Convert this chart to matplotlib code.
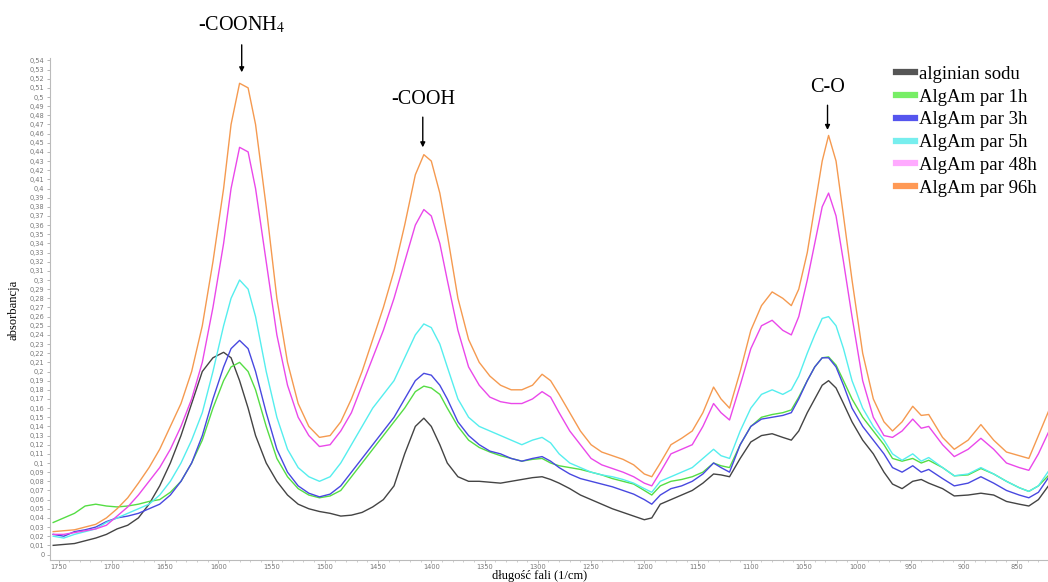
import matplotlib.pyplot as plt
from matplotlib.ticker import MultipleLocator, FuncFormatter

# wavenumber grid (1/cm)
wn = [1755, 1745, 1735, 1725, 1715, 1705, 1695, 1685, 1675, 1665, 1655, 1645,
      1635, 1625, 1615, 1605, 1595, 1588, 1580, 1572, 1565, 1555, 1545, 1535,
      1525, 1515, 1505, 1495, 1485, 1475, 1465, 1455, 1445, 1435, 1425, 1415,
      1407, 1400, 1392, 1385, 1375, 1365, 1355, 1345, 1335, 1325, 1315, 1305,
      1296, 1288, 1280, 1270, 1260, 1250, 1240, 1230, 1220, 1210, 1200, 1193,
      1185, 1175, 1165, 1155, 1145, 1135, 1128, 1120, 1110, 1100, 1090, 1080,
      1070, 1062, 1055, 1047, 1040, 1033, 1027, 1020, 1013, 1005, 995, 985,
      975, 967, 958, 948, 940, 933, 920, 909, 896, 884, 872, 860, 848, 839,
      830, 820]

alginian = [0.010, 0.011, 0.012, 0.015, 0.018, 0.022, 0.028, 0.032, 0.040, 0.055, 0.075, 0.100,
            0.130, 0.165, 0.200, 0.215, 0.221, 0.215, 0.190, 0.160, 0.130, 0.100, 0.080, 0.065,
            0.055, 0.050, 0.047, 0.045, 0.042, 0.043, 0.046, 0.052, 0.060, 0.075, 0.110, 0.140,
            0.149, 0.140, 0.120, 0.100, 0.085, 0.080, 0.080, 0.079, 0.078, 0.080, 0.082, 0.084,
            0.085, 0.082, 0.078, 0.072, 0.065, 0.060, 0.055, 0.050, 0.046, 0.042, 0.038, 0.040,
            0.055, 0.060, 0.065, 0.070, 0.078, 0.088, 0.087, 0.085, 0.105, 0.123, 0.130, 0.132,
            0.128, 0.125, 0.135, 0.155, 0.170, 0.185, 0.190, 0.182, 0.165, 0.145, 0.125, 0.110,
            0.090, 0.077, 0.072, 0.080, 0.082, 0.078, 0.072, 0.064, 0.065, 0.067, 0.065, 0.058,
            0.055, 0.053, 0.060, 0.076]

par_1h = [0.035, 0.040, 0.045, 0.053, 0.055, 0.053, 0.052, 0.053, 0.055, 0.058, 0.060, 0.068,
          0.080, 0.100, 0.125, 0.160, 0.190, 0.205, 0.210, 0.200, 0.180, 0.140, 0.105, 0.085,
          0.072, 0.065, 0.062, 0.064, 0.070, 0.085, 0.100, 0.115, 0.130, 0.145, 0.160, 0.178,
          0.184, 0.182, 0.175, 0.160, 0.140, 0.125, 0.117, 0.112, 0.108, 0.105, 0.102, 0.104,
          0.105, 0.100, 0.097, 0.095, 0.093, 0.090, 0.087, 0.083, 0.080, 0.077, 0.070, 0.065,
          0.075, 0.080, 0.082, 0.085, 0.090, 0.100, 0.097, 0.095, 0.120, 0.140, 0.150, 0.153,
          0.155, 0.158, 0.172, 0.190, 0.205, 0.215, 0.216, 0.207, 0.190, 0.170, 0.150, 0.135,
          0.120, 0.105, 0.102, 0.105, 0.100, 0.103, 0.095, 0.086, 0.087, 0.094, 0.088, 0.080,
          0.073, 0.069, 0.075, 0.087]

par_3h = [0.022, 0.020, 0.025, 0.027, 0.030, 0.036, 0.040, 0.042, 0.045, 0.050, 0.055, 0.065,
          0.080, 0.100, 0.130, 0.170, 0.205, 0.225, 0.234, 0.225, 0.200, 0.155, 0.115, 0.090,
          0.075, 0.067, 0.063, 0.066, 0.075, 0.090, 0.105, 0.120, 0.135, 0.150, 0.170, 0.190,
          0.198, 0.196, 0.185, 0.170, 0.145, 0.130, 0.120, 0.113, 0.110, 0.105, 0.102, 0.105,
          0.107, 0.102, 0.095, 0.088, 0.083, 0.080, 0.077, 0.074, 0.070, 0.066, 0.060, 0.055,
          0.065, 0.072, 0.075, 0.080, 0.088, 0.100, 0.095, 0.090, 0.120, 0.140, 0.148, 0.150,
          0.152, 0.155, 0.170, 0.190, 0.205, 0.215, 0.215, 0.205, 0.185, 0.160, 0.140, 0.125,
          0.110, 0.095, 0.090, 0.097, 0.090, 0.093, 0.083, 0.075, 0.078, 0.085, 0.078, 0.070,
          0.065, 0.062, 0.068, 0.085]

par_5h = [0.020, 0.018, 0.022, 0.025, 0.028, 0.035, 0.040, 0.045, 0.050, 0.055, 0.065, 0.080,
          0.100, 0.125, 0.155, 0.200, 0.250, 0.280, 0.300, 0.290, 0.260, 0.200, 0.150, 0.115,
          0.095, 0.085, 0.080, 0.085, 0.100, 0.120, 0.140, 0.160, 0.175, 0.190, 0.215, 0.240,
          0.252, 0.248, 0.230, 0.205, 0.170, 0.150, 0.140, 0.135, 0.130, 0.125, 0.120, 0.125,
          0.128, 0.122, 0.110, 0.100, 0.095, 0.090, 0.087, 0.085, 0.082, 0.078, 0.072, 0.068,
          0.080, 0.085, 0.090, 0.095, 0.105, 0.115, 0.108, 0.105, 0.135, 0.160, 0.175, 0.180,
          0.175, 0.180, 0.195, 0.220, 0.240, 0.258, 0.260, 0.250, 0.225, 0.190, 0.160, 0.140,
          0.125, 0.110, 0.103, 0.110, 0.102, 0.106, 0.095, 0.086, 0.088, 0.095, 0.088, 0.080,
          0.073, 0.069, 0.075, 0.092]

par_48h = [0.022, 0.022, 0.024, 0.026, 0.028, 0.032, 0.042, 0.052, 0.065, 0.080, 0.095, 0.115,
           0.140, 0.170, 0.210, 0.270, 0.340, 0.400, 0.445, 0.440, 0.400, 0.320, 0.240, 0.185,
           0.150, 0.130, 0.118, 0.120, 0.135, 0.155, 0.185, 0.215, 0.245, 0.280, 0.320, 0.360,
           0.377, 0.370, 0.340, 0.300, 0.245, 0.205, 0.185, 0.172, 0.167, 0.165, 0.165, 0.170,
           0.178, 0.172, 0.155, 0.135, 0.120, 0.105, 0.098, 0.094, 0.090, 0.085, 0.078, 0.075,
           0.090, 0.110, 0.115, 0.120, 0.140, 0.165, 0.155, 0.147, 0.185, 0.225, 0.250, 0.256,
           0.245, 0.240, 0.260, 0.300, 0.340, 0.380, 0.395, 0.370, 0.320, 0.260, 0.190, 0.150,
           0.130, 0.128, 0.135, 0.148, 0.138, 0.140, 0.120, 0.107, 0.115, 0.127, 0.115, 0.100,
           0.095, 0.092, 0.110, 0.135]

par_96h = [0.025, 0.026, 0.027, 0.030, 0.033, 0.040, 0.050, 0.062, 0.078, 0.095, 0.115, 0.140,
           0.165, 0.200, 0.250, 0.320, 0.400, 0.470, 0.515, 0.510, 0.470, 0.380, 0.280, 0.210,
           0.165, 0.140, 0.128, 0.130, 0.145, 0.170, 0.200, 0.235, 0.270, 0.310, 0.360, 0.415,
           0.437, 0.430, 0.395, 0.350, 0.280, 0.235, 0.210, 0.195, 0.185, 0.180, 0.180, 0.185,
           0.197, 0.190, 0.175, 0.155, 0.135, 0.120, 0.112, 0.108, 0.104, 0.098, 0.088, 0.085,
           0.100, 0.120, 0.127, 0.135, 0.155, 0.183, 0.170, 0.160, 0.200, 0.245, 0.272, 0.287,
           0.280, 0.272, 0.290, 0.330, 0.380, 0.430, 0.458, 0.430, 0.370, 0.300, 0.220, 0.170,
           0.145, 0.135, 0.145, 0.162, 0.152, 0.153, 0.128, 0.115, 0.125, 0.142, 0.125, 0.112,
           0.108, 0.105, 0.130, 0.158]

labels = ["alginian sodu", "AlgAm par 1h", "AlgAm par 3h",
          "AlgAm par 5h", "AlgAm par 48h", "AlgAm par 96h"]
series = [alginian, par_1h, par_3h, par_5h, par_48h, par_96h]
line_colors = ["#444444", "#55dd44", "#4848e0", "#55eeee", "#ea48ea", "#f59a50"]
legend_colors = ["#555555", "#77ee66", "#5555ee", "#77eeee", "#ffaaff", "#ff9955"]

plt.rcParams["mathtext.fontset"] = "stix"
serif = "Liberation Serif"

fig = plt.figure(figsize=(10.48, 5.82), dpi=100)
ax = fig.add_axes([0.0477, 0.0378, 0.9523, 0.8625])

for ys, c in zip(series, line_colors):
    ax.plot(wn, ys, color=c, linewidth=1.0)

ax.set_xlim(1758, 821)
ax.set_ylim(-0.006, 0.5426)

ax.xaxis.set_major_locator(MultipleLocator(50))
ax.xaxis.set_minor_locator(MultipleLocator(10))
ax.yaxis.set_major_locator(MultipleLocator(0.01))
ax.yaxis.set_major_formatter(FuncFormatter(lambda v, p: f"{round(v, 2):g}".replace(".", ",")))
ax.xaxis.set_major_formatter(FuncFormatter(lambda v, p: f"{v:.0f}"))

ax.tick_params(axis="both", labelsize=4.8, labelcolor="#777777", color="#aaaaaa",
               length=2, width=0.6, pad=2)
ax.tick_params(axis="x", pad=1.2)
ax.tick_params(axis="x", which="minor", length=1.5, color="#bbbbbb", width=0.5)
for s in ["top", "right"]:
    ax.spines[s].set_visible(False)
for s in ["left", "bottom"]:
    ax.spines[s].set_color("#bbbbbb")
    ax.spines[s].set_linewidth(0.8)

# peak annotations
peaks = [("-COONH$_{4}$", 1578, 0.579, 0.557, 0.527),
         ("-COOH", 1408, 0.497, 0.478, 0.445),
         ("C-O", 1028, 0.510, 0.491, 0.464)]
for txt, x, ty, a0, a1 in peaks:
    ax.text(x, ty, txt, ha="center", va="center", fontsize=14.5, family=serif,
            clip_on=False)
    ax.annotate("", xy=(x, a1), xytext=(x, a0), annotation_clip=False,
                arrowprops=dict(arrowstyle="-|>", color="black", lw=1.0,
                                mutation_scale=7, shrinkA=0, shrinkB=0))

handles = [plt.Line2D([], [], color=c, linewidth=4.5) for c in legend_colors]
fig.legend(handles, labels, loc="upper left", bbox_to_anchor=(0.848, 0.9),
           frameon=False, prop={"family": serif, "size": 13.5},
           handlelength=1.0, handletextpad=0.2, labelspacing=0.3, borderaxespad=0)

fig.text(0.515, 0.0, "długość fali (1/cm)", ha="center", va="bottom",
         fontsize=9, family=serif)
fig.text(0.013, 0.467, "absorbancja", ha="center", va="center", rotation=90,
         fontsize=9, family=serif)

fig.savefig("out.png", dpi=100)
